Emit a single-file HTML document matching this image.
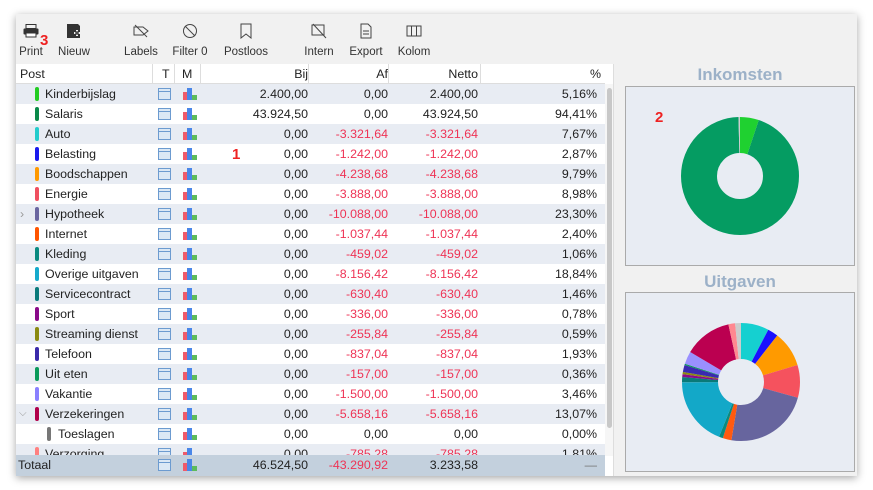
<!DOCTYPE html>
<html><head><meta charset="utf-8"><style>
*{margin:0;padding:0;box-sizing:border-box}
body{width:873px;height:490px;background:#fff;font-family:"Liberation Sans","DejaVu Sans",sans-serif;font-size:12px;color:#222;position:relative;overflow:hidden}
#win{position:absolute;left:16px;top:14px;width:841px;height:462px;background:#f1f1f1;box-shadow:0 2px 8px rgba(0,0,0,.35)}
.tb{position:absolute;top:14px;height:50px;text-align:center;font-size:11.5px;color:#333}
.tb .ic{height:22px;margin-top:6px;display:flex;justify-content:center;align-items:center}
.tb .lb{margin-top:4px}
.row{position:absolute;left:16px;width:589px;height:20px;line-height:20px;font-size:12.4px}
.row span{position:absolute;top:0}
.sh{background:#e8ecf3}
.row .bar{position:absolute;width:4px;height:14px;top:3px;border-radius:2px}
.r{text-align:right}
.red{color:#ee3355}
.row .ti{position:absolute;left:142px;top:4px;width:13px;height:12px;border:1px solid #6c9bd0;background:#dbe8f5}
.row .ti:before{content:"";position:absolute;left:0;right:0;top:2px;height:1px;background:#6c9bd0}
.row .mi{position:absolute;left:167px;top:4px;width:14px;height:12px}
.mi i{position:absolute;bottom:0;display:block}
</style></head><body>
<div id="win"></div>
<!-- toolbar -->
<div class="tb" style="left:16px;width:30px"><div class="ic"><svg width="16" height="14"><rect x="3" y="0.5" width="10" height="4" fill="none" stroke="#333"/><rect x="0.5" y="4.5" width="15" height="6" rx="1" fill="#333"/><rect x="3" y="9" width="10" height="4" fill="#fff" stroke="#333"/></svg></div><div class="lb">Print</div></div>
<div style="position:absolute;left:40px;top:32px;color:#ee2222;font-weight:bold;font-size:15px">3</div>
<div class="tb" style="left:56px;width:36px"><div class="ic"><svg width="16" height="16"><path d="M1 1h11l2 2v12H1z" fill="#333"/><path d="M8 10h6M11 7v6" stroke="#f1f1f1" stroke-width="2"/><path d="M9 10h4M11 8v4" stroke="#333" stroke-width="1.3"/></svg></div><div class="lb">Nieuw</div></div>
<div class="tb" style="left:123px;width:36px"><div class="ic"><svg width="16" height="14"><path d="M1 3h9l5 4-5 4H1z" fill="none" stroke="#444"/><path d="M2 1l12 12" stroke="#444"/></svg></div><div class="lb">Labels</div></div>
<div class="tb" style="left:170px;width:40px"><div class="ic"><svg width="16" height="16"><circle cx="8" cy="8" r="6.5" fill="none" stroke="#444"/><path d="M3 3l10 10" stroke="#444"/></svg></div><div class="lb">Filter 0</div></div>
<div class="tb" style="left:222px;width:48px"><div class="ic"><svg width="12" height="16"><path d="M1 1h10v14l-5-4-5 4z" fill="none" stroke="#444"/></svg></div><div class="lb">Postloos</div></div>
<div class="tb" style="left:300px;width:38px"><div class="ic"><svg width="16" height="16"><rect x="1" y="2" width="12" height="10" fill="none" stroke="#444"/><path d="M2 1l13 14" stroke="#444"/></svg></div><div class="lb">Intern</div></div>
<div class="tb" style="left:346px;width:40px"><div class="ic"><svg width="12" height="16"><path d="M1 1h7l3 3v11H1z" fill="none" stroke="#444"/><path d="M3 8h6M3 11h6" stroke="#444"/></svg></div><div class="lb">Export</div></div>
<div class="tb" style="left:396px;width:36px"><div class="ic"><svg width="16" height="12"><rect x="1" y="1" width="14" height="10" fill="none" stroke="#444"/><path d="M5.5 1v10M10.5 1v10" stroke="#444"/></svg></div><div class="lb">Kolom</div></div>
<!-- table area -->
<div style="position:absolute;left:16px;top:64px;width:597px;height:412px;background:#fff"></div>
<div style="position:absolute;left:16px;top:64px;width:589px;height:20px;background:#fff;border-bottom:1px solid #ddd;font-size:12.4px;line-height:20px">
<span style="position:absolute;left:4px">Post</span>
<span style="position:absolute;left:136px;width:1px;height:20px;background:#ddd"></span>
<span style="position:absolute;left:146px">T</span>
<span style="position:absolute;left:158px;width:1px;height:20px;background:#ddd"></span>
<span style="position:absolute;left:166px">M</span>
<span style="position:absolute;left:184px;width:1px;height:20px;background:#ddd"></span>
<span style="position:absolute;right:297px">Bij</span>
<span style="position:absolute;left:292px;width:1px;height:20px;background:#ddd"></span>
<span style="position:absolute;right:217px">Af</span>
<span style="position:absolute;left:372px;width:1px;height:20px;background:#ddd"></span>
<span style="position:absolute;right:127px">Netto</span>
<span style="position:absolute;left:464px;width:1px;height:20px;background:#ddd"></span>
<span style="position:absolute;right:4px">%</span>
</div>
<!-- scrollbar -->
<div style="position:absolute;left:605px;top:84px;width:8px;height:372px;background:#f6f6f6"></div>
<div style="position:absolute;left:607px;top:88px;width:5px;height:340px;background:#c8c8c8;border-radius:3px"></div>
<div style="position:absolute;left:232px;top:146px;color:#ee2222;font-weight:bold;font-size:15px;z-index:2">1</div>
<!-- right panel -->
<div style="position:absolute;left:613px;top:64px;width:244px;height:412px;background:#f1f1f1;border-left:1px solid #ddd"></div>
<div style="position:absolute;left:625px;top:64px;width:230px;text-align:center;font-weight:bold;font-size:17px;color:#9cb1c8;line-height:22px">Inkomsten</div>
<div style="position:absolute;left:625px;top:86px;width:230px;height:180px;background:#e8ecf3;border:1px solid #aaa"></div>
<svg style="position:absolute;left:680px;top:116px" width="120" height="120" viewBox="0 0 120 120">
<g transform="rotate(-90 60 60)" fill="none" stroke-width="36">
<circle cx="60" cy="60" r="41" pathLength="100" stroke="#059c62" stroke-dasharray="94.41 100" stroke-dashoffset="-5.16"/>
<circle cx="60" cy="60" r="41" pathLength="100" stroke="#1fd130" stroke-dasharray="5.16 100" stroke-dashoffset="0"/>
<circle cx="60" cy="60" r="41" pathLength="100" stroke="#ccc" stroke-dasharray="0.43 100" stroke-dashoffset="-99.57"/>
</g></svg>
<div style="position:absolute;left:655px;top:109px;color:#ee2222;font-weight:bold;font-size:15px">2</div>
<div style="position:absolute;left:625px;top:271px;width:230px;text-align:center;font-weight:bold;font-size:17px;color:#9cb1c8;line-height:22px">Uitgaven</div>
<div style="position:absolute;left:625px;top:292px;width:230px;height:180px;background:#e8ecf3;border:1px solid #aaa"></div>
<svg style="position:absolute;left:681px;top:322px" width="120" height="120" viewBox="0 0 120 120">
<g transform="rotate(-90 60 60)" fill="none" stroke-width="36">
<circle cx="60" cy="60" r="41" pathLength="100" stroke="#15d0d0" stroke-dasharray="7.67 100" stroke-dashoffset="0"/>
<circle cx="60" cy="60" r="41" pathLength="100" stroke="#1a10ff" stroke-dasharray="2.87 100" stroke-dashoffset="-7.67"/>
<circle cx="60" cy="60" r="41" pathLength="100" stroke="#ff9a00" stroke-dasharray="9.79 100" stroke-dashoffset="-10.54"/>
<circle cx="60" cy="60" r="41" pathLength="100" stroke="#f5525e" stroke-dasharray="8.98 100" stroke-dashoffset="-20.33"/>
<circle cx="60" cy="60" r="41" pathLength="100" stroke="#67659e" stroke-dasharray="23.30 100" stroke-dashoffset="-29.31"/>
<circle cx="60" cy="60" r="41" pathLength="100" stroke="#ff5a10" stroke-dasharray="2.40 100" stroke-dashoffset="-52.61"/>
<circle cx="60" cy="60" r="41" pathLength="100" stroke="#0a8a80" stroke-dasharray="1.06 100" stroke-dashoffset="-55.01"/>
<circle cx="60" cy="60" r="41" pathLength="100" stroke="#13a8c8" stroke-dasharray="18.84 100" stroke-dashoffset="-56.07"/>
<circle cx="60" cy="60" r="41" pathLength="100" stroke="#0a7a78" stroke-dasharray="1.46 100" stroke-dashoffset="-74.91"/>
<circle cx="60" cy="60" r="41" pathLength="100" stroke="#8a0a8a" stroke-dasharray="0.78 100" stroke-dashoffset="-76.37"/>
<circle cx="60" cy="60" r="41" pathLength="100" stroke="#8a8a10" stroke-dasharray="0.59 100" stroke-dashoffset="-77.15"/>
<circle cx="60" cy="60" r="41" pathLength="100" stroke="#3a2ab0" stroke-dasharray="1.93 100" stroke-dashoffset="-77.74"/>
<circle cx="60" cy="60" r="41" pathLength="100" stroke="#0a9a5a" stroke-dasharray="0.36 100" stroke-dashoffset="-79.67"/>
<circle cx="60" cy="60" r="41" pathLength="100" stroke="#9a90ff" stroke-dasharray="3.46 100" stroke-dashoffset="-80.03"/>
<circle cx="60" cy="60" r="41" pathLength="100" stroke="#bb0050" stroke-dasharray="13.07 100" stroke-dashoffset="-83.49"/>
<circle cx="60" cy="60" r="41" pathLength="100" stroke="#ff8890" stroke-dasharray="1.81 100" stroke-dashoffset="-96.56"/>
<circle cx="60" cy="60" r="41" pathLength="100" stroke="#cccccc" stroke-dasharray="1.63 100" stroke-dashoffset="-98.37"/>
</g></svg>

<div class="row sh" style="top:84px"><span class="bar" style="left:19px;background:#22cc22"></span><span style="left:29px">Kinderbijslag</span><span class="ti"></span><span class="mi"><i style="left:0;width:5px;height:8px;background:#f05a6a"></i><i style="left:4px;width:5px;height:12px;background:#4a86e8"></i><i style="left:9px;width:5px;height:5px;background:#5cbb5c"></i></span><span class="r" style="right:297px">2.400,00</span><span class="r" style="right:217px">0,00</span><span class="r" style="right:127px">2.400,00</span><span class="r" style="right:8px">5,16%</span></div>
<div class="row" style="top:104px"><span class="bar" style="left:19px;background:#0a8a4a"></span><span style="left:29px">Salaris</span><span class="ti"></span><span class="mi"><i style="left:0;width:5px;height:8px;background:#f05a6a"></i><i style="left:4px;width:5px;height:12px;background:#4a86e8"></i><i style="left:9px;width:5px;height:5px;background:#5cbb5c"></i></span><span class="r" style="right:297px">43.924,50</span><span class="r" style="right:217px">0,00</span><span class="r" style="right:127px">43.924,50</span><span class="r" style="right:8px">94,41%</span></div>
<div class="row sh" style="top:124px"><span class="bar" style="left:19px;background:#22cccc"></span><span style="left:29px">Auto</span><span class="ti"></span><span class="mi"><i style="left:0;width:5px;height:8px;background:#f05a6a"></i><i style="left:4px;width:5px;height:12px;background:#4a86e8"></i><i style="left:9px;width:5px;height:5px;background:#5cbb5c"></i></span><span class="r" style="right:297px">0,00</span><span class="r red" style="right:217px">-3.321,64</span><span class="r red" style="right:127px">-3.321,64</span><span class="r" style="right:8px">7,67%</span></div>
<div class="row" style="top:144px"><span class="bar" style="left:19px;background:#1a1aee"></span><span style="left:29px">Belasting</span><span class="ti"></span><span class="mi"><i style="left:0;width:5px;height:8px;background:#f05a6a"></i><i style="left:4px;width:5px;height:12px;background:#4a86e8"></i><i style="left:9px;width:5px;height:5px;background:#5cbb5c"></i></span><span class="r" style="right:297px">0,00</span><span class="r red" style="right:217px">-1.242,00</span><span class="r red" style="right:127px">-1.242,00</span><span class="r" style="right:8px">2,87%</span></div>
<div class="row sh" style="top:164px"><span class="bar" style="left:19px;background:#ff9900"></span><span style="left:29px">Boodschappen</span><span class="ti"></span><span class="mi"><i style="left:0;width:5px;height:8px;background:#f05a6a"></i><i style="left:4px;width:5px;height:12px;background:#4a86e8"></i><i style="left:9px;width:5px;height:5px;background:#5cbb5c"></i></span><span class="r" style="right:297px">0,00</span><span class="r red" style="right:217px">-4.238,68</span><span class="r red" style="right:127px">-4.238,68</span><span class="r" style="right:8px">9,79%</span></div>
<div class="row" style="top:184px"><span class="bar" style="left:19px;background:#f05060"></span><span style="left:29px">Energie</span><span class="ti"></span><span class="mi"><i style="left:0;width:5px;height:8px;background:#f05a6a"></i><i style="left:4px;width:5px;height:12px;background:#4a86e8"></i><i style="left:9px;width:5px;height:5px;background:#5cbb5c"></i></span><span class="r" style="right:297px">0,00</span><span class="r red" style="right:217px">-3.888,00</span><span class="r red" style="right:127px">-3.888,00</span><span class="r" style="right:8px">8,98%</span></div>
<div class="row sh" style="top:204px"><span style="left:4px;color:#999">›</span><span class="bar" style="left:19px;background:#6a66a0"></span><span style="left:29px">Hypotheek</span><span class="ti"></span><span class="mi"><i style="left:0;width:5px;height:8px;background:#f05a6a"></i><i style="left:4px;width:5px;height:12px;background:#4a86e8"></i><i style="left:9px;width:5px;height:5px;background:#5cbb5c"></i></span><span class="r" style="right:297px">0,00</span><span class="r red" style="right:217px">-10.088,00</span><span class="r red" style="right:127px">-10.088,00</span><span class="r" style="right:8px">23,30%</span></div>
<div class="row" style="top:224px"><span class="bar" style="left:19px;background:#ff5500"></span><span style="left:29px">Internet</span><span class="ti"></span><span class="mi"><i style="left:0;width:5px;height:8px;background:#f05a6a"></i><i style="left:4px;width:5px;height:12px;background:#4a86e8"></i><i style="left:9px;width:5px;height:5px;background:#5cbb5c"></i></span><span class="r" style="right:297px">0,00</span><span class="r red" style="right:217px">-1.037,44</span><span class="r red" style="right:127px">-1.037,44</span><span class="r" style="right:8px">2,40%</span></div>
<div class="row sh" style="top:244px"><span class="bar" style="left:19px;background:#0a8a80"></span><span style="left:29px">Kleding</span><span class="ti"></span><span class="mi"><i style="left:0;width:5px;height:8px;background:#f05a6a"></i><i style="left:4px;width:5px;height:12px;background:#4a86e8"></i><i style="left:9px;width:5px;height:5px;background:#5cbb5c"></i></span><span class="r" style="right:297px">0,00</span><span class="r red" style="right:217px">-459,02</span><span class="r red" style="right:127px">-459,02</span><span class="r" style="right:8px">1,06%</span></div>
<div class="row" style="top:264px"><span class="bar" style="left:19px;background:#16aacc"></span><span style="left:29px">Overige uitgaven</span><span class="ti"></span><span class="mi"><i style="left:0;width:5px;height:8px;background:#f05a6a"></i><i style="left:4px;width:5px;height:12px;background:#4a86e8"></i><i style="left:9px;width:5px;height:5px;background:#5cbb5c"></i></span><span class="r" style="right:297px">0,00</span><span class="r red" style="right:217px">-8.156,42</span><span class="r red" style="right:127px">-8.156,42</span><span class="r" style="right:8px">18,84%</span></div>
<div class="row sh" style="top:284px"><span class="bar" style="left:19px;background:#0a7a7a"></span><span style="left:29px">Servicecontract</span><span class="ti"></span><span class="mi"><i style="left:0;width:5px;height:8px;background:#f05a6a"></i><i style="left:4px;width:5px;height:12px;background:#4a86e8"></i><i style="left:9px;width:5px;height:5px;background:#5cbb5c"></i></span><span class="r" style="right:297px">0,00</span><span class="r red" style="right:217px">-630,40</span><span class="r red" style="right:127px">-630,40</span><span class="r" style="right:8px">1,46%</span></div>
<div class="row" style="top:304px"><span class="bar" style="left:19px;background:#8a0a8a"></span><span style="left:29px">Sport</span><span class="ti"></span><span class="mi"><i style="left:0;width:5px;height:8px;background:#f05a6a"></i><i style="left:4px;width:5px;height:12px;background:#4a86e8"></i><i style="left:9px;width:5px;height:5px;background:#5cbb5c"></i></span><span class="r" style="right:297px">0,00</span><span class="r red" style="right:217px">-336,00</span><span class="r red" style="right:127px">-336,00</span><span class="r" style="right:8px">0,78%</span></div>
<div class="row sh" style="top:324px"><span class="bar" style="left:19px;background:#8a8a10"></span><span style="left:29px">Streaming dienst</span><span class="ti"></span><span class="mi"><i style="left:0;width:5px;height:8px;background:#f05a6a"></i><i style="left:4px;width:5px;height:12px;background:#4a86e8"></i><i style="left:9px;width:5px;height:5px;background:#5cbb5c"></i></span><span class="r" style="right:297px">0,00</span><span class="r red" style="right:217px">-255,84</span><span class="r red" style="right:127px">-255,84</span><span class="r" style="right:8px">0,59%</span></div>
<div class="row" style="top:344px"><span class="bar" style="left:19px;background:#3a2aaa"></span><span style="left:29px">Telefoon</span><span class="ti"></span><span class="mi"><i style="left:0;width:5px;height:8px;background:#f05a6a"></i><i style="left:4px;width:5px;height:12px;background:#4a86e8"></i><i style="left:9px;width:5px;height:5px;background:#5cbb5c"></i></span><span class="r" style="right:297px">0,00</span><span class="r red" style="right:217px">-837,04</span><span class="r red" style="right:127px">-837,04</span><span class="r" style="right:8px">1,93%</span></div>
<div class="row sh" style="top:364px"><span class="bar" style="left:19px;background:#0a9a5a"></span><span style="left:29px">Uit eten</span><span class="ti"></span><span class="mi"><i style="left:0;width:5px;height:8px;background:#f05a6a"></i><i style="left:4px;width:5px;height:12px;background:#4a86e8"></i><i style="left:9px;width:5px;height:5px;background:#5cbb5c"></i></span><span class="r" style="right:297px">0,00</span><span class="r red" style="right:217px">-157,00</span><span class="r red" style="right:127px">-157,00</span><span class="r" style="right:8px">0,36%</span></div>
<div class="row" style="top:384px"><span class="bar" style="left:19px;background:#8a80ff"></span><span style="left:29px">Vakantie</span><span class="ti"></span><span class="mi"><i style="left:0;width:5px;height:8px;background:#f05a6a"></i><i style="left:4px;width:5px;height:12px;background:#4a86e8"></i><i style="left:9px;width:5px;height:5px;background:#5cbb5c"></i></span><span class="r" style="right:297px">0,00</span><span class="r red" style="right:217px">-1.500,00</span><span class="r red" style="right:127px">-1.500,00</span><span class="r" style="right:8px">3,46%</span></div>
<div class="row sh" style="top:404px"><span style="left:3px;color:#999;font-size:10px">⌵</span><span class="bar" style="left:19px;background:#b0004a"></span><span style="left:29px">Verzekeringen</span><span class="ti"></span><span class="mi"><i style="left:0;width:5px;height:8px;background:#f05a6a"></i><i style="left:4px;width:5px;height:12px;background:#4a86e8"></i><i style="left:9px;width:5px;height:5px;background:#5cbb5c"></i></span><span class="r" style="right:297px">0,00</span><span class="r red" style="right:217px">-5.658,16</span><span class="r red" style="right:127px">-5.658,16</span><span class="r" style="right:8px">13,07%</span></div>
<div class="row" style="top:424px"><span class="bar" style="left:31px;background:#777"></span><span style="left:42px">Toeslagen</span><span class="ti"></span><span class="mi"><i style="left:0;width:5px;height:8px;background:#f05a6a"></i><i style="left:4px;width:5px;height:12px;background:#4a86e8"></i><i style="left:9px;width:5px;height:5px;background:#5cbb5c"></i></span><span class="r" style="right:297px">0,00</span><span class="r" style="right:217px">0,00</span><span class="r" style="right:127px">0,00</span><span class="r" style="right:8px">0,00%</span></div>
<div class="row sh" style="top:444px;height:11px;overflow:hidden"><span class="bar" style="left:19px;background:#ff8080"></span><span style="left:29px">Verzorging</span><span class="ti"></span><span class="mi"><i style="left:0;width:5px;height:8px;background:#f05a6a"></i><i style="left:4px;width:5px;height:12px;background:#4a86e8"></i><i style="left:9px;width:5px;height:5px;background:#5cbb5c"></i></span><span class="r" style="right:297px">0,00</span><span class="r red" style="right:217px">-785,28</span><span class="r red" style="right:127px">-785,28</span><span class="r" style="right:8px">1,81%</span></div>
<!-- totals -->
<div class="row" style="top:455px;height:21px;background:#c3d0dd">
<span style="left:2px">Totaal</span><span class="ti"></span><span class="mi"><i style="left:0;width:5px;height:8px;background:#f05a6a"></i><i style="left:4px;width:5px;height:12px;background:#4a86e8"></i><i style="left:9px;width:5px;height:5px;background:#5cbb5c"></i></span>
<span class="r" style="right:297px">46.524,50</span><span class="r red" style="right:217px">-43.290,92</span><span class="r" style="right:127px">3.233,58</span><span class="r" style="right:8px;color:#777">—</span>
</div>
</body></html>
